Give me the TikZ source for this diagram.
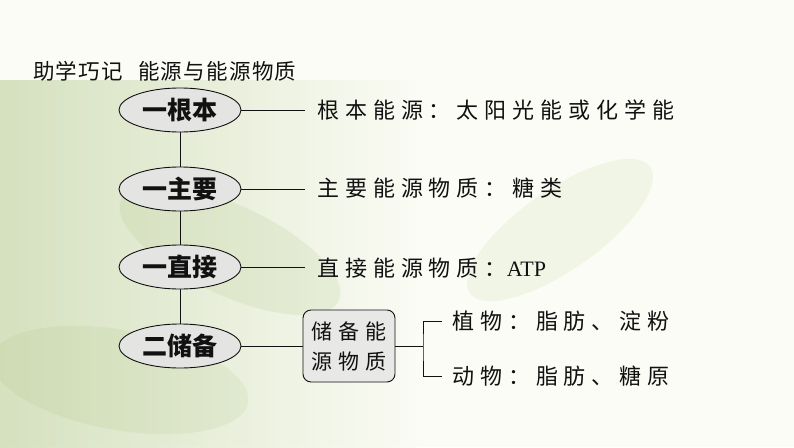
\documentclass[tikz,border=0pt]{standalone}
\usepackage{fontspec}
\setmainfont{Noto Sans CJK SC}
\newfontfamily\spaced[LetterSpace=27]{Noto Sans CJK SC}
\newfontfamily\titlefont[LetterSpace=6]{Noto Sans CJK SC}
\newfontfamily\latinserif{Liberation Serif}
\usepackage{xcolor}
\usepackage{tikz}
\usetikzlibrary{shapes.geometric,backgrounds}
\definecolor{ink}{HTML}{111111}
\definecolor{ovalfill}{HTML}{E4E4E2}
\definecolor{boxfill}{HTML}{E8E8E6}
\definecolor{leafgreen}{HTML}{9DB86A}
\definecolor{paper}{HTML}{FBFCF5}
\tikzset{
  oval/.style={
    ellipse, draw=ink, line width=0.9pt, fill=ovalfill, text=ink,
    minimum width=122pt, minimum height=44pt, inner sep=0pt,
    font=\fontsize{25}{27}\selectfont\bfseries
  },
  desc/.style={
    anchor=west, text=ink, inner xsep=12pt, inner ysep=2pt,
    font=\fontsize{22}{26}\selectfont\spaced
  },
  store/.style={
    rounded corners=8pt, draw=ink, line width=0.9pt, fill=boxfill,
    text=ink, align=center, inner sep=0pt, minimum width=92pt,
    minimum height=72pt, font=\fontsize{21}{30}\selectfont\spaced
  },
  link/.style={draw=ink, line width=1pt},
  heading/.style={anchor=west, text=ink, inner sep=0pt,
    font=\fontsize{21.5}{24}\selectfont\titlefont}
}

\begin{document}
\begin{tikzpicture}[x=1pt,y=-1pt]
  \useasboundingbox (0,0) rectangle (794,447);

  \node[heading] (title) at (33,71) {助学巧记\hspace{0.7em}能源与能源物质};

  % main chain
  \node[oval] (genben)  at (180,110) {一根本};
  \node[oval] (zhuyao)  at (180,189) {一主要};
  \node[oval] (zhijie)  at (180,267) {一直接};
  \node[oval] (chubei)  at (180,346) {二储备};

  % descriptions
  \node[desc] (d1) at (305,110) {根本能源：太阳光能或化学能};
  \node[desc] (d2) at (305,188) {主要能源物质：糖类};
  \node[desc] (d3) at (305,268) {直接能源物质：{\latinserif ATP}};

  \node[store] (store) at (349,346) {储备能\\源物质};
  \coordinate (fork) at (423,346);
  \node[desc, inner xsep=10pt] (plant)  at (442,321) {植物：脂肪、淀粉};
  \node[desc, inner xsep=10pt] (animal) at (442,376) {动物：脂肪、糖原};

  \begin{scope}[on background layer]
    % background
    \fill[paper] (0,0) rectangle (794,447);
    \shade[left color=leafgreen!55, right color=paper, opacity=0.75]
      (0,80) rectangle (420,447);
    \fill[leafgreen, opacity=0.14, rotate around={-25:(230,250)}]
      (230,250) ellipse (120pt and 45pt);
    \fill[leafgreen, opacity=0.10, rotate around={35:(560,230)}]
      (560,230) ellipse (110pt and 40pt);
    \fill[leafgreen, opacity=0.12, rotate around={-10:(120,380)}]
      (120,380) ellipse (130pt and 50pt);
    \draw[link] (genben) -- (chubei);
  \end{scope}
  \draw[link] (genben.east) -- (genben -| d1.west);
  \draw[link] (zhuyao.east) -- (zhuyao -| d2.west);
  \draw[link] (zhijie.east) -- (zhijie -| d3.west);
  \draw[link] (chubei.east) -- (store.west);
  \draw[link] (store.east) -- (fork);
  \draw[link] (plant.west) -| (fork) |- (animal.west);
\end{tikzpicture}
\end{document}
